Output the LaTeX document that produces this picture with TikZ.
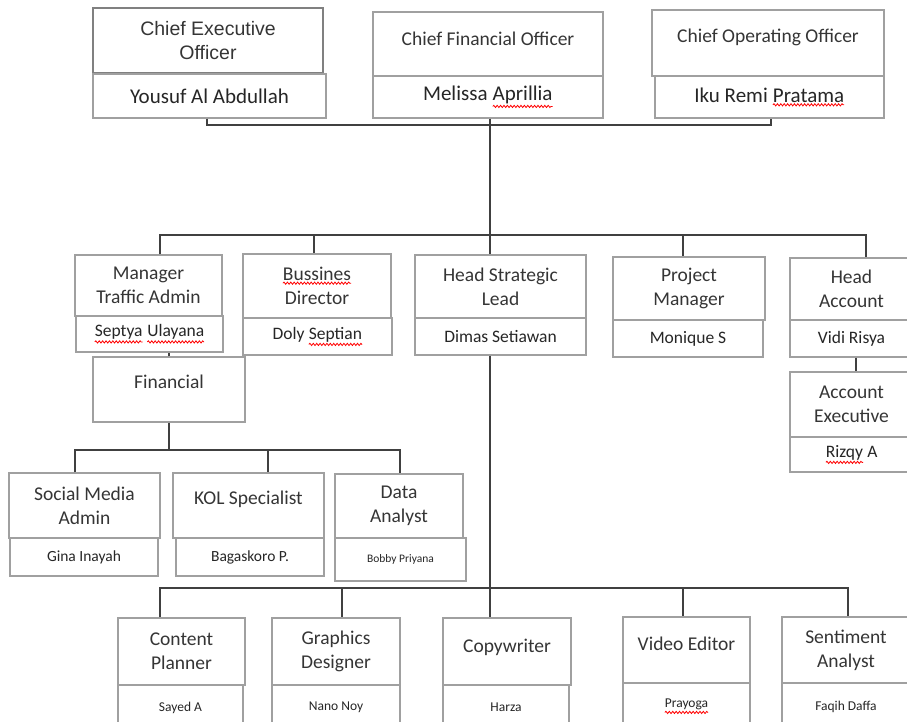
\documentclass[tikz,border=0pt]{standalone}
\usepackage{fontspec}
\setmainfont{Carlito}
\newfontfamily\arialf{Liberation Sans}
\usetikzlibrary{decorations.pathmorphing}
\newcommand\redwave[1]{\tikz[baseline=(w.base)]{\node[inner sep=0pt, outer sep=0pt, draw=none, fill=none, minimum width=0pt, minimum height=0pt] (w) {#1};
  \draw[red, line width=0.8pt, decorate, decoration={snake, amplitude=1.1pt, segment length=3.4pt}] ([yshift=-2.4pt]w.south west) -- ([yshift=-2.4pt]w.south east);}}
\definecolor{boxgray}{HTML}{A0A0A0}
\definecolor{ceogray}{HTML}{808080}
\definecolor{conngray}{HTML}{404040}
\definecolor{titlegray}{HTML}{353535}
\definecolor{namegray}{HTML}{262626}
\begin{document}
\begin{tikzpicture}[x=1pt,y=-1pt,
  wh/.style 2 args={minimum width=#1pt, minimum height=#2pt},
  box/.style={draw=boxgray, line width=1.1pt, fill=white, inner sep=0pt, align=center},
  ttl/.style={box, text=titlegray, font=\fontsize{19.5}{24}\selectfont},
  ceobox/.style={draw=ceogray, line width=1.8pt, font=\arialf\fontsize{19.5}{24}\selectfont},
  nmA/.style={box, text=namegray, font=\fontsize{21}{24}\selectfont},
  nmB/.style={box, text=namegray, font=\fontsize{17.5}{21}\selectfont},
  nmC/.style={box, text=namegray, font=\fontsize{15.5}{19}\selectfont},
  nmD/.style={box, text=namegray, font=\fontsize{13.5}{16}\selectfont},
  conn/.style={draw=conngray, line width=2.3pt, line join=miter},
]
\useasboundingbox (0,0) rectangle (907,722);
\clip (0,0) rectangle (907,722);
\fill[white] (0,0) rectangle (907,722);

% row 1
\node[ttl, ceobox, wh={230}{65}] (ceot) at (208,40.5) {Chief Executive\\Officer};
\node[nmA, wh={233}{44}] (ceon) at (209.5,96) {Yousuf Al Abdullah};
\node[ttl, wh={230}{64}] (cfot) at (488,44) {Chief Financial Officer\\[-14pt]\mbox{}};
\node[nmA, wh={230}{42}] (cfon) at (488,97) {Melissa \redwave{Aprillia}};
\node[ttl, wh={232}{66}] (coot) at (768,43) {Chief Operating Officer\\[-10pt]\mbox{}};
\node[nmA, wh={229}{42}] (coon) at (769.5,97) {Iku Remi \redwave{Pratama}};

% row 2
\node[ttl, wh={147}{61}] (mtat) at (148.5,285.5) {Manager\\Traffic Admin};
\node[nmB, wh={147}{36}] (mtan) at (149.5,334) {\redwave{Septya} \redwave{Ulayana}};
\node[ttl, wh={148}{64}] (bdt) at (317,286) {\redwave{Bussines}\\Director};
\node[nmB, wh={149}{37}] (bdn) at (317.5,336.5) {Doly \redwave{Septian}};
\node[ttl, wh={171}{63}] (hslt) at (500.5,286.5) {Head Strategic\\Lead};
\node[nmB, wh={171}{37}] (hsln) at (500.5,336.5) {Dimas Setiawan};
\node[ttl, wh={152}{63}] (pmt) at (689,288.5) {Project\\Manager};
\node[nmB, wh={150}{37}] (pmn) at (688,338.5) {Monique S};
\node[ttl, wh={123}{62}] (hat) at (851.5,289) {Head\\Account};
\node[nmB, wh={123}{37}] (han) at (851.5,338.5) {Vidi Risya};
\node[ttl, wh={123}{65}] (aet) at (851.5,404.5) {Account\\Executive};
\node[nmB, wh={123}{35}] (aen) at (851.5,454.5) {\redwave{Rizqy} A};
\node[ttl, wh={152}{65}] (fin) at (169,389.5) {Financial\\[-8pt]\mbox{}};

% row 3
\node[ttl, wh={151}{65}] (smat) at (84.5,505.5) {Social Media\\Admin};
\node[nmC, wh={148}{38}] (sman) at (84,557) {Gina Inayah};
\node[ttl, wh={151}{65}] (kolt) at (248.5,505.5) {KOL Specialist\\[-9pt]\mbox{}};
\node[nmC, wh={148}{38}] (koln) at (250,557) {Bagaskoro P.};
\node[ttl, wh={128}{64}] (dat) at (399,506) {Data\\Analyst};
\node[box, text=namegray, font=\fontsize{11.5}{14}\selectfont, wh={131}{43}] (dan) at (400.5,559.5) {Bobby Priyana};

% row 4
\node[ttl, wh={127}{67}] (cpt) at (181.5,651.5) {Content\\Planner};
\node[nmD, wh={125}{45}] (cpn) at (180.5,707.5) {Sayed A};
\node[ttl, wh={128}{67}] (gdt) at (336,651.5) {Graphics\\Designer};
\node[nmD, wh={128}{45}] (gdn) at (336,707.5) {Nano Noy};
\node[ttl, wh={128}{67}] (cwt) at (507,651.5) {Copywriter\\[-13pt]\mbox{}};
\node[nmD, wh={126}{45}] (cwn) at (506,707.5) {Harza};
\node[ttl, wh={127}{66}] (vet) at (686.5,650) {Video Editor\\[-12pt]\mbox{}};
\node[nmD, wh={127}{47}] (ven) at (686.5,706.5) {\redwave{Prayoga}};
\node[ttl, wh={128}{66}] (sat) at (846,650) {Sentiment\\Analyst};
\node[nmD, wh={128}{47}] (san) at (846,706.5) {Faqih Daffa};

% connectors row 1
\coordinate (j1) at (207,125);
\coordinate (j2) at (771,125);
\draw[conn] (j1 |- ceon.south) -- (j1) -- (j2) -- (j2 |- coon.south);
\coordinate (k0) at (490,235);
\draw[conn] (k0 |- cfon.south) -- (k0);
% bus row 2
\coordinate (k1) at (160,235);
\coordinate (k2) at (314,235);
\coordinate (k4) at (683,235);
\coordinate (k5) at (866,235);
\draw[conn] (k1 |- mtat.north) -- (k1) -- (k5) -- (k5 |- hat.north);
\draw[conn] (k2) -- (k2 |- bdt.north);
\draw[conn] (k0) -- (k0 |- hslt.north);
\draw[conn] (k4) -- (k4 |- pmt.north);
% head account to account executive
\coordinate (v) at (856,365);
\draw[conn] (v |- han.south) -- (v |- aet.north);
% manager traffic admin to financial
\draw[conn] (fin.north) -- (fin.north |- mtan.south);
% financial bus
\coordinate (f1) at (75,450);
\coordinate (f2) at (268,450);
\coordinate (f3) at (400,450);
\draw[conn] (fin.south) -- (fin.south |- f1);
\draw[conn] (f1 |- smat.north) -- (f1) -- (f3) -- (f3 |- dat.north);
\draw[conn] (f2) -- (f2 |- kolt.north);
% head strategic bus
\coordinate (h0) at (490,588);
\coordinate (h1) at (160,588);
\coordinate (h2) at (342,588);
\coordinate (h4) at (683,588);
\coordinate (h5) at (848,588);
\draw[conn] (h0 |- hsln.south) -- (h0);
\draw[conn] (h1 |- cpt.north) -- (h1) -- (h5) -- (h5 |- sat.north);
\draw[conn] (h2) -- (h2 |- gdt.north);
\draw[conn] (h0) -- (h0 |- cwt.north);
\draw[conn] (h4) -- (h4 |- vet.north);
\end{tikzpicture}
\end{document}
